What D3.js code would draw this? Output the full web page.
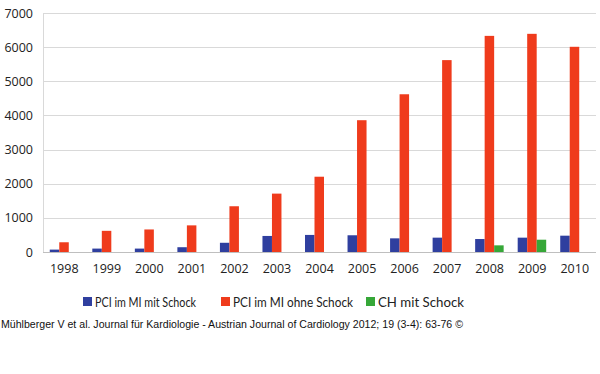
<!DOCTYPE html>
<html>
<head>
<meta charset="utf-8">
<script src="https://cdn.jsdelivr.net/npm/d3@7"></script>
<style>
  body { margin: 0; background: #fff; }
  svg { display: block; }
</style>
</head>
<body>
<svg id="chart" width="600" height="374"></svg>
<script>
// data
var years = ["1998", "1999", "2000", "2001", "2002", "2003", "2004", "2005", "2006", "2007", "2008", "2009", "2010"];
var pciMitSchock = [70, 100, 100, 140, 270, 470, 500, 490, 400, 420, 380, 420, 478];
var pciOhneSchock = [285, 620, 660, 780, 1340, 1710, 2205, 3860, 4620, 5620, 6330, 6390, 6010];
var chMitSchock = [0, 0, 0, 0, 0, 0, 0, 0, 0, 0, 195, 360, 0];
var seriesNames = ["PCI im MI mit Schock", "PCI im MI ohne Schock", "CH mit Schock"];
var seriesColors = ["#2f3f9f", "#ef3b1c", "#36a738"];
var yTicks = [0, 1000, 2000, 3000, 4000, 5000, 6000, 7000];
var footer = "Mühlberger V et al. Journal für Kardiologie - Austrian Journal of Cardiology 2012; 19 (3-4): 63-76 ©";

var svg = d3.select("#chart"),
    margin = {top: 13, right: 4, bottom: 122, left: 43},
    width = +svg.attr("width") - margin.left - margin.right,
    height = +svg.attr("height") - margin.top - margin.bottom,
    g = svg.append("g").attr("transform", "translate(" + margin.left + "," + margin.top + ")");

var data = years.map(function(y, i) {
  return {year: y, values: [pciMitSchock[i], pciOhneSchock[i], chMitSchock[i]]};
});

var x0 = d3.scaleBand()
    .domain(years)
    .range([0, width]);

var x1 = d3.scaleBand()
    .domain([0, 1, 2])
    .range([0, 28.5]);

var y = d3.scaleLinear()
    .domain([0, 7000])
    .range([height, 0]);

// gridlines
g.append("g")
    .selectAll("line")
    .data(yTicks)
    .enter().append("line")
    .attr("x1", 0)
    .attr("x2", width)
    .attr("y1", function(d) { return Math.round(y(d)) + 0.5; })
    .attr("y2", function(d) { return Math.round(y(d)) + 0.5; })
    .attr("stroke", function(d) { return d == 0 ? "#bfbfbf" : "#d9d9d9"; })
    .attr("stroke-width", 1);

g.append("line")
    .attr("x1", 0.5).attr("x2", 0.5)
    .attr("y1", 0).attr("y2", height)
    .attr("stroke", "#d9d9d9");

// y axis labels
g.append("g")
    .call(d3.axisLeft(y).tickValues(yTicks).tickFormat(d3.format("d")).tickSize(0).tickPadding(10))
    .call(function(a) { a.select(".domain").remove(); })
    .selectAll("text")
    .attr("font-family", "'Open Sans', sans-serif")
    .attr("font-size", 12.5)
    .attr("fill", "#222");

// bars
g.append("g")
  .selectAll("g")
  .data(data)
  .enter().append("g")
    .attr("transform", function(d) { return "translate(" + (x0(d.year) + x0.bandwidth() / 2 - 14.5) + ",0)"; })
  .selectAll("rect")
  .data(function(d) { return d.values.map(function(v, k) { return {key: k, value: v}; }); })
  .enter().append("rect")
    .attr("x", function(d) { return x1(d.key); })
    .attr("y", function(d) { return y(d.value); })
    .attr("width", x1.bandwidth())
    .attr("height", function(d) { return height - y(d.value); })
    .attr("fill", function(d) { return seriesColors[d.key]; });

// x axis labels
g.append("g")
    .attr("transform", "translate(0," + height + ")")
    .call(d3.axisBottom(x0).tickSize(0).tickPadding(12))
    .call(function(a) { a.select(".domain").remove(); })
    .selectAll("text")
    .attr("font-family", "'Open Sans', sans-serif")
    .attr("font-size", 12.5)
    .attr("fill", "#222");

// legend
var legendX = [83, 221, 366];
var legendW = [101, 120, 86];
var legend = svg.append("g")
  .selectAll("g")
  .data(seriesNames)
  .enter().append("g")
    .attr("transform", function(d, i) { return "translate(" + legendX[i] + ",297)"; });

legend.append("rect")
    .attr("width", 9)
    .attr("height", 9)
    .attr("fill", function(d, i) { return seriesColors[i]; });

legend.append("text")
    .attr("x", 12)
    .attr("y", 9.5)
    .attr("font-family", "Lato, sans-serif")
    .attr("font-size", 13)
    .attr("fill", "#222")
    .attr("textLength", function(d, i) { return legendW[i]; })
    .attr("lengthAdjust", "spacingAndGlyphs")
    .text(function(d) { return d; });

svg.append("text")
    .attr("x", 1)
    .attr("y", 328)
    .attr("font-family", "'Liberation Sans', Arial, sans-serif")
    .attr("font-size", 11.5)
    .attr("fill", "#111")
    .attr("textLength", 462)
    .attr("lengthAdjust", "spacingAndGlyphs")
    .text(footer);
</script>
</body>
</html>
